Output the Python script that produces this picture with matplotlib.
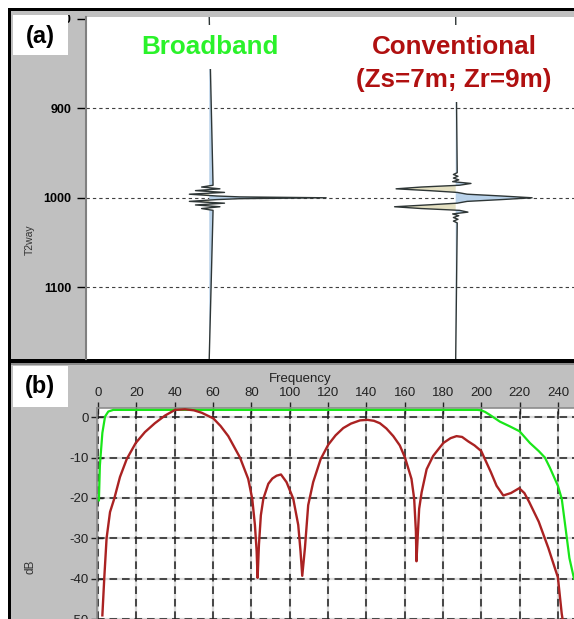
import numpy as np
import matplotlib
matplotlib.use("Agg")
import matplotlib.pyplot as plt
from matplotlib.patches import Rectangle

plt.rcParams['lines.scale_dashes'] = False

# --- panel (a): wavelets (time in ms, amplitude relative to conventional peak)
time_ticks = [800, 900, 1000, 1100]
trace_names = ["Broadband", "Conventional", "(Zs=7m; Zr=9m)"]

t_bb = [986, 988, 990, 992, 994, 996, 998, 999, 1000, 1001, 1002, 1004, 1006,
        1008, 1010, 1012, 1014]
a_bb = [0.05, -0.10, 0.14, -0.18, 0.20, -0.26, 0.10, 0.40, 1.53, 0.40, 0.10,
        -0.26, 0.20, -0.18, 0.14, -0.10, 0.05]

t_cv = [972, 974, 976, 978, 980, 982, 984, 986, 988, 990, 992, 994, 996, 998,
        1000, 1002, 1004, 1006, 1008, 1010, 1012, 1014, 1016, 1018, 1020, 1022,
        1024, 1026, 1028]
a_cv = [0.02, -0.03, 0.03, -0.03, 0.04, -0.04, 0.20, 0.05, -0.45, -0.78, -0.35,
        0.02, 0.15, 0.60, 1.00, 0.60, 0.15, 0.02, -0.38, -0.80, -0.45, 0.05,
        0.16, -0.04, 0.04, -0.03, 0.03, -0.03, 0.02]

# --- panel (b): amplitude spectra (Hz, dB)
freq_ticks = [0, 20, 40, 60, 80, 100, 120, 140, 160, 180, 200, 220, 240]
db_ticks = [0, -10, -20, -30, -40, -50]

f_bb = [0.5, 1.0, 2.3, 3.7, 5.4, 8, 198, 200, 202, 204.5, 209.7, 215, 220,
        225.4, 230, 233.2, 235.8, 240, 242, 244, 246, 248.4]
db_bb = [-20.6, -12, -3.9, 0.15, 1.4, 1.8, 1.8, 1.7, 1.3, 0.56, -1.1, -2.3,
         -3.5, -6.4, -8.4, -10, -12.5, -17, -20.2, -27.5, -34.9, -40]

f_cv = [2.3, 3.3, 4.5, 6.3, 8.5, 11.5, 15, 19.7, 24.5, 29.7, 35, 40.2, 45.4,
        50, 54.1, 60.2, 64, 68, 74.1, 78.4, 80.5, 81.9, 82.8, 83.3, 84, 85,
        86.3, 88.9, 91, 93.2, 95.5, 98.4, 101.9, 104.5, 105.7, 106.6, 108,
        109.7, 112.3, 116.2, 120.2, 124, 128, 132, 136.7, 140.5, 144, 147.1,
        150.5, 154.1, 157.5, 160.2, 163.6, 165, 165.9, 166.2, 166.8, 167.6,
        168.9, 171.5, 174.9, 180.2, 184, 187.1, 190, 193.2, 196.5, 200, 205,
        208, 211.5, 215.5, 219.8, 222.5, 225, 230, 235, 240, 242, 242.6]
db_cv = [-49.1, -39.8, -30, -23.5, -20.2, -14.8, -10.4, -6.4, -3.7, -1.5, 0.4,
         1.8, 1.95, 1.7, 1.1, -0.3, -2.2, -4.7, -10, -15.3, -20.2, -26.7,
         -33.2, -39.8, -31.6, -24.3, -20.2, -16.5, -15.2, -14.5, -14.2, -16.1,
         -20.2, -26.7, -33.2, -39.3, -32.4, -21.8, -16.1, -10.4, -6.8, -4.5,
         -2.7, -1.6, -0.8, -0.66, -0.9, -1.5, -2.8, -4.7, -7.0, -10, -15.3,
         -20.2, -28.3, -35.7, -30, -22.7, -18.6, -12.9, -9.6, -6.4, -5.2, -4.7,
         -4.9, -6.0, -7.0, -8.4, -13.6, -17, -19.4, -18.8, -17.6, -18.8, -21,
         -25.9, -32.4, -39.7, -48.7, -50.5]

W, H = 574, 619


def fbox(x0, y0, x1, y1):
    # pixel box -> figure fraction rect
    return [x0 / W, 1 - y1 / H, (x1 - x0) / W, (y1 - y0) / H]


def frect(x0, y0, x1, y1, **kw):
    b = fbox(x0, y0, x1, y1)
    return Rectangle((b[0], b[1]), b[2], b[3], transform=fig.transFigure, **kw)


fig = plt.figure(figsize=(W / 100, H / 100), dpi=100)
fig.patch.set_facecolor("white")

# frame / background
fig.patches.append(frect(8, 8, W, H, fc="#c0c0c0", ec="none", zorder=-10))
fig.patches.append(frect(8, 8, W, 10.5, fc="black", ec="none", zorder=-9))
fig.patches.append(frect(8, 8, 11, H, fc="black", ec="none", zorder=-9))
fig.patches.append(frect(8, 358.5, W, 362.5, fc="black", ec="none", zorder=-9))
fig.patches.append(frect(11, 362.5, W, 365, fc="#8a8a8a", ec="none", zorder=-9))

# ---------------- panel (a)
ax1 = fig.add_axes(fbox(86, 17, W, 358.5))
ax1.set_facecolor("white")
ax1.set_xlim(0.5, 2.48)
ax1.set_ylim(1179.3, 798.3)
for s in ["top", "right", "bottom"]:
    ax1.spines[s].set_visible(False)
ax1.spines["left"].set_color("#808080")
ax1.spines["left"].set_linewidth(1.5)
ax1.set_xticks([])
ax1.set_yticks(time_ticks)
ax1.set_yticklabels([str(v) for v in time_ticks], fontfamily="Liberation Sans",
                    fontweight="bold", fontsize=9)
ax1.tick_params(axis="y", length=6.5, width=1, pad=4, colors="black")
for v in time_ticks[1:]:
    ax1.axhline(v, color="#404040", lw=0.8, ls=(0, (2.4, 2.2)), zorder=1)

gain = 0.31
for pos, (t, a) in enumerate([(t_bb, a_bb), (t_cv, a_cv)], start=1):
    tt = np.array([798.3] + t + [1179.3])
    aa = np.array([0.0] + a + [0.0])
    xx = pos + gain * aa
    ax1.fill_betweenx(tt, pos, xx, where=aa > 0, interpolate=True,
                      color="#b9d2ea", lw=0, zorder=2)
    ax1.fill_betweenx(tt, pos, xx, where=aa < 0, interpolate=True,
                      color="#e4e0c2", lw=0, zorder=2)
    ax1.plot(xx, tt, color="#2e3636", lw=1.0, zorder=3)

title_font = dict(fontfamily="Liberation Sans", fontweight="bold", fontsize=18.7,
                  ha="center", va="center", zorder=6)
fig.text(210 / W, 1 - 47 / H, trace_names[0], color="#2af22a",
         bbox=dict(boxstyle="square,pad=0.4", fc="white", ec="none"), **title_font)
fig.text(454 / W, 1 - 47 / H, trace_names[1], color="#b01010",
         bbox=dict(boxstyle="square,pad=0.4", fc="white", ec="none"), **title_font)
fig.text(454 / W, 1 - 80 / H, trace_names[2], color="#b01010",
         bbox=dict(boxstyle="square,pad=0.4", fc="white", ec="none"), **title_font)
fig.text(30 / W, 1 - 240 / H, "T2way", rotation=90, fontfamily="Liberation Sans",
         fontsize=7.5, color="#333333", ha="center", va="center")

# ---------------- panel (b)
ax2 = fig.add_axes(fbox(97, 408, W, H))
ax2.set_facecolor("white")
ax2.set_xlim(-0.5, 248.4)
ax2.set_ylim(-49.3, 2.27)
for s in ["bottom", "right"]:
    ax2.spines[s].set_visible(False)
for s in ["top", "left"]:
    ax2.spines[s].set_color("#8c8c8c")
    ax2.spines[s].set_linewidth(1.2)
ax2.xaxis.tick_top()
ax2.set_xticks(freq_ticks)
ax2.set_yticks(db_ticks)
ax2.set_xticklabels([str(v) for v in freq_ticks])
ax2.set_yticklabels([str(v) for v in db_ticks])
for lab in ax2.get_xticklabels() + ax2.get_yticklabels():
    lab.set_fontfamily("Liberation Sans")
    lab.set_fontsize(9.5)
    lab.set_color("#222222")
ax2.tick_params(axis="x", direction="inout", length=8.5, width=1, pad=2.5,
                colors="#222222")
ax2.tick_params(axis="y", direction="inout", length=8.5, width=1, pad=1.5,
                colors="#222222")

for v in freq_ticks:
    ax2.axvline(v, color="#dadada", lw=1.6, zorder=1)
    ax2.axvline(v, color="#1e1e1e", lw=1.1, ls=(0, (5.5, 3.5)), zorder=1.5)
for v in db_ticks:
    ax2.axhline(v, color="#dadada", lw=1.6, zorder=1)
    ax2.axhline(v, color="#1e1e1e", lw=1.1, ls=(0, (5.5, 3.5)), zorder=1.5)

ax2.plot(f_bb, db_bb, color="#19e619", lw=1.6, zorder=3)
ax2.plot(f_cv, db_cv, color="#aa2222", lw=1.7, zorder=3)

fig.text(300 / W, 1 - 379 / H, "Frequency", fontfamily="Liberation Sans",
         fontsize=9.5, color="#222222", ha="center", va="center")
fig.text(30 / W, 1 - 567 / H, "dB", rotation=90, fontfamily="Liberation Sans",
         fontsize=8.5, color="#333333", ha="center", va="center")

# the top tick label is clipped by the window edge and the letter box
fig.patches.append(frect(11, 10.5, 86, 15, fc="#c0c0c0", ec="none", zorder=4))
fig.patches.append(frect(13, 15, 68, 55, fc="white", ec="none", zorder=5))
fig.patches.append(frect(13, 366, 68, 407, fc="white", ec="none", zorder=5))
fig.text(40 / W, 1 - 36 / H, "(a)", fontfamily="Liberation Sans",
         fontweight="bold", fontsize=17, ha="center", va="center", zorder=6)
fig.text(40 / W, 1 - 387 / H, "(b)", fontfamily="Liberation Sans",
         fontweight="bold", fontsize=17, ha="center", va="center", zorder=6)

fig.savefig("out.png", dpi=100)
